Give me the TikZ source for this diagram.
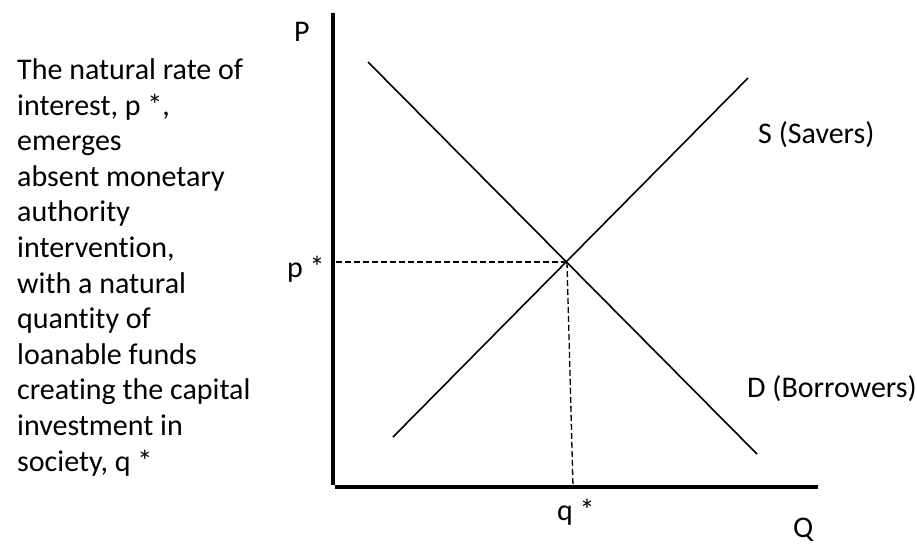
\documentclass[tikz,border=0pt]{standalone}
\usepackage{fontspec}
\setmainfont{Carlito}[Ligatures=NoCommon]
\usetikzlibrary{positioning,calc}

\begin{document}
\begin{tikzpicture}[
    x=1pt, y=-1pt,
    font=\fontsize{30}{35.6}\selectfont,
    lbl/.style={anchor=base west, inner sep=0pt},
    axis/.style={line width=4pt},
    curve/.style={line width=1.6pt},
    guide/.style={dash pattern=on 6pt off 3pt, line width=1.3pt}
]
    \useasboundingbox (0,0) rectangle (917,550);

    % axes
    \coordinate (PTOP) at (333,13);
    \coordinate (PBOT) at (333,485);
    \coordinate (QLEFT) at (335,487);
    \coordinate (QRIGHT) at (818,487);
    \draw[axis] (PTOP) -- (PBOT);
    \draw[axis] (QLEFT) -- (QRIGHT);

    % supply and demand
    \coordinate (DTOP) at (368,62);
    \coordinate (DBOT) at (757,454);
    \coordinate (SBOT) at (393,437);
    \coordinate (STOP) at (748,78);
    \coordinate (EQ) at (567,262);
    \coordinate (QSTAR) at (573,487);
    \draw[curve] (DTOP) -- (DBOT);
    \draw[curve] (SBOT) -- (STOP);

    % equilibrium guides
    \draw[guide] (EQ) -- (EQ -| PTOP);
    \draw[guide] (EQ) -- (QSTAR);

    % labels
    \node[lbl] (P) at (294,41) {P};
    \node[lbl] (PSTAR) at (287,277) {p *};
    \node[lbl] (QS) at (557,520) {q *};
    \node[lbl] (Q) at (793,537) {Q};
    \node[lbl] (SAVERS) at (758,143) {S (Savers)};
    \node[lbl] (BORROWERS) at (747,397) {D (Borrowers)};

    % explanation (anchored at its last line)
    \node[lbl, align=left] (NOTE) at (17,471) {The natural rate of\\
        interest, p *,\\
        emerges\\
        absent monetary\\
        authority\\
        intervention,\\
        with a natural\\
        quantity of\\
        loanable funds\\
        creating the capital\\
        investment in\\
        society, q *};
\end{tikzpicture}
\end{document}
